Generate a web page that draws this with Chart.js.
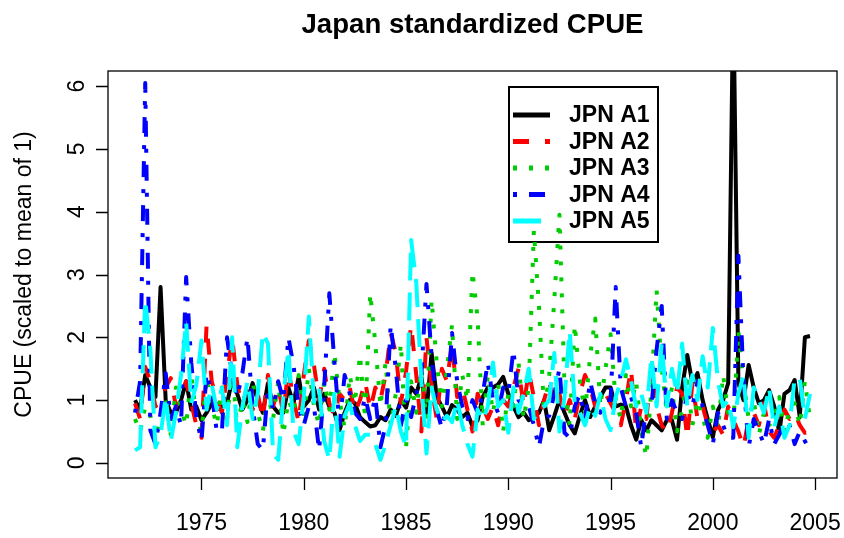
<!DOCTYPE html>
<html><head><meta charset="utf-8">
<script src="https://cdn.jsdelivr.net/npm/chart.js@4.4.1/dist/chart.umd.min.js"></script>
<style>html,body{margin:0;padding:0;background:#fff;}</style>
</head><body>
<canvas id="c" width="844" height="538"></canvas>
<script>
// Quarterly series, first point 1971.75, step 0.25 year
const startYear = 1971.75;
const step = 0.25;
const titleText = "Japan standardized CPUE";
const yLabel = "CPUE (scaled to mean of 1)";
const xTicks = [1975, 1980, 1985, 1990, 1995, 2000, 2005];
const yTicks = [0, 1, 2, 3, 4, 5, 6];
const seriesNames = ["JPN A1", "JPN A2", "JPN A3", "JPN A4", "JPN A5"];

const a1 = [1.0,
 0.85,1.4,1.2,1.05,   2.8,1.0,0.8,0.8,     1.0,1.3,0.85,0.9,    0.68,0.8,0.95,0.85,
 0.9,0.95,1.32,1.1,   0.85,1.0,1.27,1.0,   0.8,1.27,0.9,0.8,    0.8,1.2,0.95,1.37,
 0.9,1.0,1.2,0.85,    1.1,0.9,0.8,0.52,    0.8,1.0,0.95,0.73,   0.65,0.58,0.6,0.73,
 0.68,0.85,0.75,1.0,  0.88,1.2,1.1,1.37,   0.8,1.75,1.05,0.9,   0.73,0.92,0.85,0.73,
 0.8,0.58,0.68,1.05,  1.2,1.2,1.25,1.37,   1.1,0.9,0.73,0.8,    0.68,0.73,0.8,1.0,
 0.52,0.75,1.0,0.8,   0.6,0.47,0.75,1.0,   0.73,0.9,1.05,1.2,   1.2,0.9,0.93,0.9,
 0.6,0.37,0.68,0.52,  0.68,0.6,0.52,0.68,  0.68,0.37,1.2,1.72,  1.27,1.43,1.0,0.7,
 0.41,0.84,1.0,1.27,  7.5,1.27,1.0,1.56,   1.2,0.95,1.0,1.16,   0.9,0.48,1.1,1.16,
 1.32,0.73,2.0,2.02];

const a2 = [0.95,
 0.7,1.53,1.3,0.9,    1.0,1.2,1.35,0.9,    1.1,1.3,0.95,0.6,    0.4,2.2,1.3,1.0,
 0.8,1.4,2.0,1.25,    0.9,1.25,0.85,1.1,   0.7,1.4,0.9,1.2,     0.8,1.5,1.0,0.65,
 1.4,1.95,1.55,1.0,   1.5,0.95,0.75,1.1,   1.0,1.2,0.8,1.0,     1.3,0.85,1.2,1.0,
 1.4,2.07,1.75,0.95,  1.45,2.2,1.4,0.5,    2.0,1.2,0.7,1.5,     1.3,1.9,1.05,1.2,
 0.85,0.5,1.1,0.9,    0.7,0.9,0.6,1.0,     0.9,1.2,1.5,0.9,     1.45,1.05,0.6,1.0,
 1.3,0.9,1.1,0.75,    1.0,0.7,1.1,1.4,     1.2,0.9,0.95,1.1,    0.95,0.8,0.6,1.0,
 1.5,0.5,0.9,0.7,     1.5,0.9,0.6,0.48,    0.8,1.2,1.1,0.4,     1.27,0.7,0.9,0.6,
 0.48,0.6,0.45,0.9,   0.68,0.5,0.25,0.7,   0.8,0.6,0.95,0.5,    0.4,0.6,0.85,0.7,
 0.8,0.6,0.48,0.5];

const a3 = [0.7,
 0.5,0.9,0.75,0.4,    0.7,1.0,0.45,1.2,    0.85,0.6,1.4,0.75,   0.5,1.35,0.9,0.6,
 1.2,0.7,1.5,0.55,    1.0,0.65,1.3,0.8,    0.5,1.1,0.7,1.3,     0.45,1.0,0.8,1.4,
 0.7,1.5,0.9,0.6,     1.3,0.85,1.75,1.0,   0.55,1.4,0.95,1.72,  0.7,2.7,1.9,0.9,
 1.6,0.6,1.1,1.9,     0.25,1.3,0.8,1.5,    0.7,2.6,1.6,0.9,     1.5,2.2,0.7,1.4,
 1.0,3.05,2.3,0.6,    1.4,0.8,1.3,0.5,     1.1,0.9,1.6,0.7,     1.2,3.7,2.5,0.8,
 1.4,2.6,3.95,1.2,    0.6,2.2,1.3,0.8,     1.7,2.3,0.9,1.5,     2.05,1.0,0.7,1.4,
 0.9,1.3,0.5,0.1,     1.2,2.75,1.5,0.8,    1.2,0.5,0.85,1.3,    0.6,1.0,0.75,0.4,
 0.9,0.55,1.4,0.8,    0.6,2.1,1.3,0.7,     1.0,0.45,0.8,0.6,    0.7,1.05,0.5,0.85,
 0.95,0.6,1.3,0.7];

const a4 = [0.8,
 1.3,6.05,0.52,0.3,   0.8,1.43,0.7,0.9,    0.6,2.96,1.6,0.72,   0.35,1.43,1.1,0.5,
 0.5,2.0,1.4,1.05,    1.43,2.0,0.9,0.3,    0.2,1.2,0.85,1.3,    1.0,2.0,1.55,0.9,
 0.6,0.9,0.9,0.2,     1.2,2.7,1.6,0.6,     1.4,1.1,0.8,0.7,     1.05,0.7,1.05,0.25,
 0.6,2.2,1.5,0.6,     1.0,0.73,1.1,1.4,    2.85,1.7,0.85,0.55,  0.95,2.07,1.3,0.9,
 0.7,1.0,0.8,1.1,     1.6,1.0,0.8,1.2,     1.1,1.8,1.0,0.9,     0.9,0.6,0.25,0.7,
 0.75,1.1,1.5,0.48,   0.4,0.9,1.1,0.7,     1.3,0.95,0.8,1.0,    1.0,2.8,1.2,0.9,
 1.05,0.8,0.25,0.9,   0.9,1.8,2.5,0.7,     1.0,0.8,0.7,1.1,     0.9,1.3,0.9,0.6,
 0.3,0.8,0.6,0.4,     0.4,3.3,1.3,0.25,    0.7,0.5,0.3,0.7,     0.3,0.45,0.65,0.6,
 0.3,0.5,0.35,0.2];

const a5 = [0.2,
 0.25,2.6,1.8,0.25,   0.45,1.05,0.35,0.8,  1.4,2.25,0.95,1.25,  1.95,0.85,1.25,0.85,
 1.2,0.6,2.0,0.25,    0.9,1.3,0.7,1.1,     2.07,1.9,0.15,0.05,  1.05,1.8,0.5,0.3,
 1.05,2.33,0.97,1.2,  0.35,0.05,1.1,0.1,   0.75,0.95,0.6,0.35,  0.45,0.45,0.3,0.05,
 0.3,0.6,0.9,0.5,     0.25,3.55,2.87,1.3,  0.15,1.2,0.85,0.65,  0.75,0.65,1.0,0.6,
 0.3,0.1,0.85,0.68,   0.9,1.6,0.9,1.0,     0.48,1.2,0.8,1.1,    1.5,0.7,0.85,0.9,
 1.0,1.75,0.5,1.05,   2.1,0.95,0.8,0.6,    0.9,0.75,1.1,0.7,    0.52,1.05,1.3,1.65,
 1.3,0.9,1.1,0.8,     1.7,0.9,1.9,0.9,     1.5,1.1,1.9,0.9,     1.4,1.0,1.7,1.2,
 2.15,1.3,0.9,1.0,    0.57,1.1,1.4,0.4,    1.2,1.0,0.8,1.2,     0.55,0.9,0.4,0.6,
 1.35,1.35,0.7,1.1];

const colors = ["#000000", "#ff0000", "#00cd00", "#0000ff", "#00ffff"];
const dashes = [[], [16,16], [4,12], [4,12,16,12], [28,12]];
const LW = 4;
const FONT = '"Liberation Sans", Arial, Helvetica, sans-serif';

function toPoints(vals) {
  return vals.map((v, i) => ({ x: startYear + step * i, y: v }));
}
const allSeries = [a1, a2, a3, a4, a5];
const datasets = allSeries.map((vals, k) => ({
  label: seriesNames[k],
  data: toPoints(vals),
  borderColor: colors[k],
  borderWidth: LW,
  borderDash: dashes[k],
  borderCapStyle: 'butt',
  borderJoinStyle: 'round',
  pointRadius: 0,
  fill: false,
  tension: 0,
  clip: 0,
  order: 5 - k
}));

const decor = {
  id: 'decor',
  beforeDatasetsDraw(chart) {
    const c = chart.ctx;
    // legend (drawn beneath the lines)
    const lx = 508, ly = 86, lw = 151, lh = 157;
    c.save();
    c.fillStyle = '#fff';
    c.fillRect(lx, ly, lw, lh);
    c.lineWidth = 2;
    c.strokeStyle = '#000';
    c.strokeRect(lx + 1, ly + 1, lw - 2, lh - 2);
    c.font = 'bold 23px ' + FONT;
    c.textBaseline = 'middle';
    c.textAlign = 'left';
    for (let k = 0; k < 5; k++) {
      const yy = 115 + k * 26.5;
      c.beginPath();
      c.setLineDash(dashes[k]);
      c.lineCap = 'butt';
      c.strokeStyle = colors[k];
      c.lineWidth = LW + 1;
      c.moveTo(513, yy);
      c.lineTo(550, yy);
      c.stroke();
      c.setLineDash([]);
      c.fillStyle = '#000';
      c.fillText(seriesNames[k], 569, yy + 1);
    }
    c.restore();
  },
  afterDraw(chart) {
    const c = chart.ctx;
    const a = chart.chartArea;
    const xs = chart.scales.x, ys = chart.scales.y;
    c.save();
    c.strokeStyle = '#000';
    c.lineWidth = 1.3;
    c.strokeRect(a.left, a.top, a.right - a.left, a.bottom - a.top);
    c.beginPath();
    xTicks.forEach(v => {
      const px = Math.round(xs.getPixelForValue(v)) + 0.5;
      c.moveTo(px, a.bottom); c.lineTo(px, a.bottom + 12);
    });
    yTicks.forEach(v => {
      const py = Math.round(ys.getPixelForValue(v)) + 0.5;
      c.moveTo(a.left, py); c.lineTo(a.left - 12, py);
    });
    c.stroke();
    c.fillStyle = '#000';
    c.font = '23px ' + FONT;
    c.textAlign = 'center';
    c.textBaseline = 'alphabetic';
    xTicks.forEach(v => {
      c.fillText(String(v), xs.getPixelForValue(v), 530);
    });
    yTicks.forEach(v => {
      c.save();
      c.translate(84, ys.getPixelForValue(v));
      c.rotate(-Math.PI / 2);
      c.fillText(String(v), 0, 0);
      c.restore();
    });
    c.save();
    c.translate(31, (a.top + a.bottom) / 2);
    c.rotate(-Math.PI / 2);
    c.fillText(yLabel, 0, 0);
    c.restore();
    c.font = 'bold 27.6px ' + FONT;
    c.fillText(titleText, (a.left + a.right) / 2, 33);
    c.restore();
  }
};

new Chart(document.getElementById('c').getContext('2d'), {
  type: 'line',
  data: { datasets },
  options: {
    responsive: false,
    animation: false,
    devicePixelRatio: 1,
    layout: { padding: { top: 71, right: 7, left: 0, bottom: 0 } },
    plugins: { legend: { display: false }, title: { display: false }, tooltip: { enabled: false } },
    scales: {
      x: {
        type: 'linear', min: 1970.43, max: 2006.07,
        afterFit: s => { s.height = 60; },
        afterBuildTicks: s => { s.ticks = xTicks.map(v => ({ value: v })); },
        ticks: { display: false },
        grid: { display: false },
        border: { display: false }
      },
      y: {
        type: 'linear', min: -0.24, max: 6.24,
        afterFit: s => { s.width = 108; },
        afterBuildTicks: s => { s.ticks = yTicks.map(v => ({ value: v })); },
        ticks: { display: false },
        grid: { display: false },
        border: { display: false }
      }
    }
  },
  plugins: [decor]
});
</script>
</body></html>
